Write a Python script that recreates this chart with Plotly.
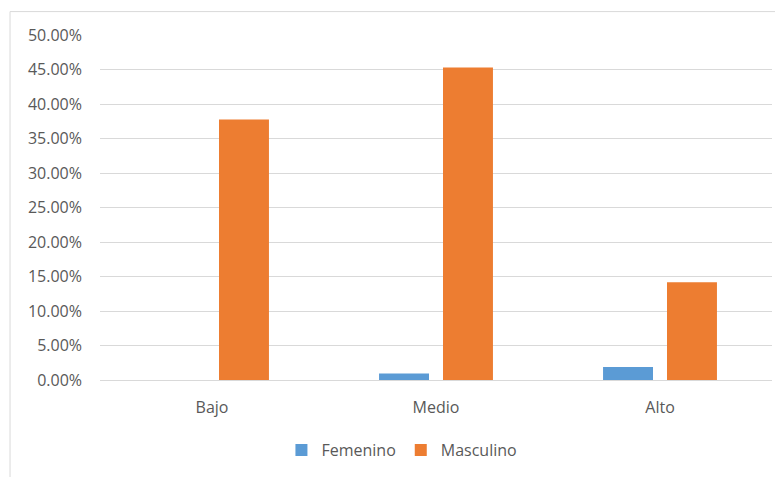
import plotly.graph_objects as go

categories = ["Bajo", "Medio", "Alto"]
femenino = [0.0, 0.0094, 0.0189]
masculino = [0.3774, 0.4528, 0.1415]
tick_vals = [0, 0.05, 0.10, 0.15, 0.20, 0.25, 0.30, 0.35, 0.40, 0.45, 0.50]

FONT = "Open Sans"
TXT = "#595959"

fig = go.Figure()
fig.add_trace(go.Bar(name="Femenino", x=categories, y=femenino,
                     marker=dict(color="#5B9BD5", line=dict(width=0))))
fig.add_trace(go.Bar(name="Masculino", x=categories, y=masculino,
                     marker=dict(color="#ED7D31", line=dict(width=0))))

# page body has an 8px margin, so the figure is shrunk by 8px
fig.update_layout(
    width=775, height=469,
    margin=dict(l=92, r=11, t=26.5, b=96),
    paper_bgcolor="white", plot_bgcolor="white",
    barmode="group", bargap=0.429, bargroupgap=0.219,
    font=dict(family=FONT, size=16, color=TXT),
    showlegend=True,
    legend=dict(orientation="h", x=0.27, xanchor="left", y=-0.2, yanchor="middle",
                font=dict(family=FONT, size=16, color=TXT), itemwidth=30,
                traceorder="normal"),
    xaxis=dict(showgrid=False, showline=False, ticks="", zeroline=False,
               ticklabelstandoff=16,
               tickfont=dict(family=FONT, size=16, color=TXT)),
    yaxis=dict(range=[0, 0.5], tickvals=tick_vals, tickformat=".2%",
               showgrid=True, gridcolor="#D9D9D9", gridwidth=1.3,
               zeroline=True, zerolinecolor="#D9D9D9", zerolinewidth=1.3,
               showline=False, ticks="", ticklabelstandoff=17,
               tickfont=dict(family=FONT, size=16, color=TXT)),
    shapes=[dict(type="rect", xref="paper", yref="paper",
                 x0=-0.1339, x1=1.3, y0=-0.5, y1=1.0678,
                 line=dict(color="#D9D9D9", width=1), fillcolor="rgba(0,0,0,0)",
                 layer="below")],
)

fig.write_html("out.html")
